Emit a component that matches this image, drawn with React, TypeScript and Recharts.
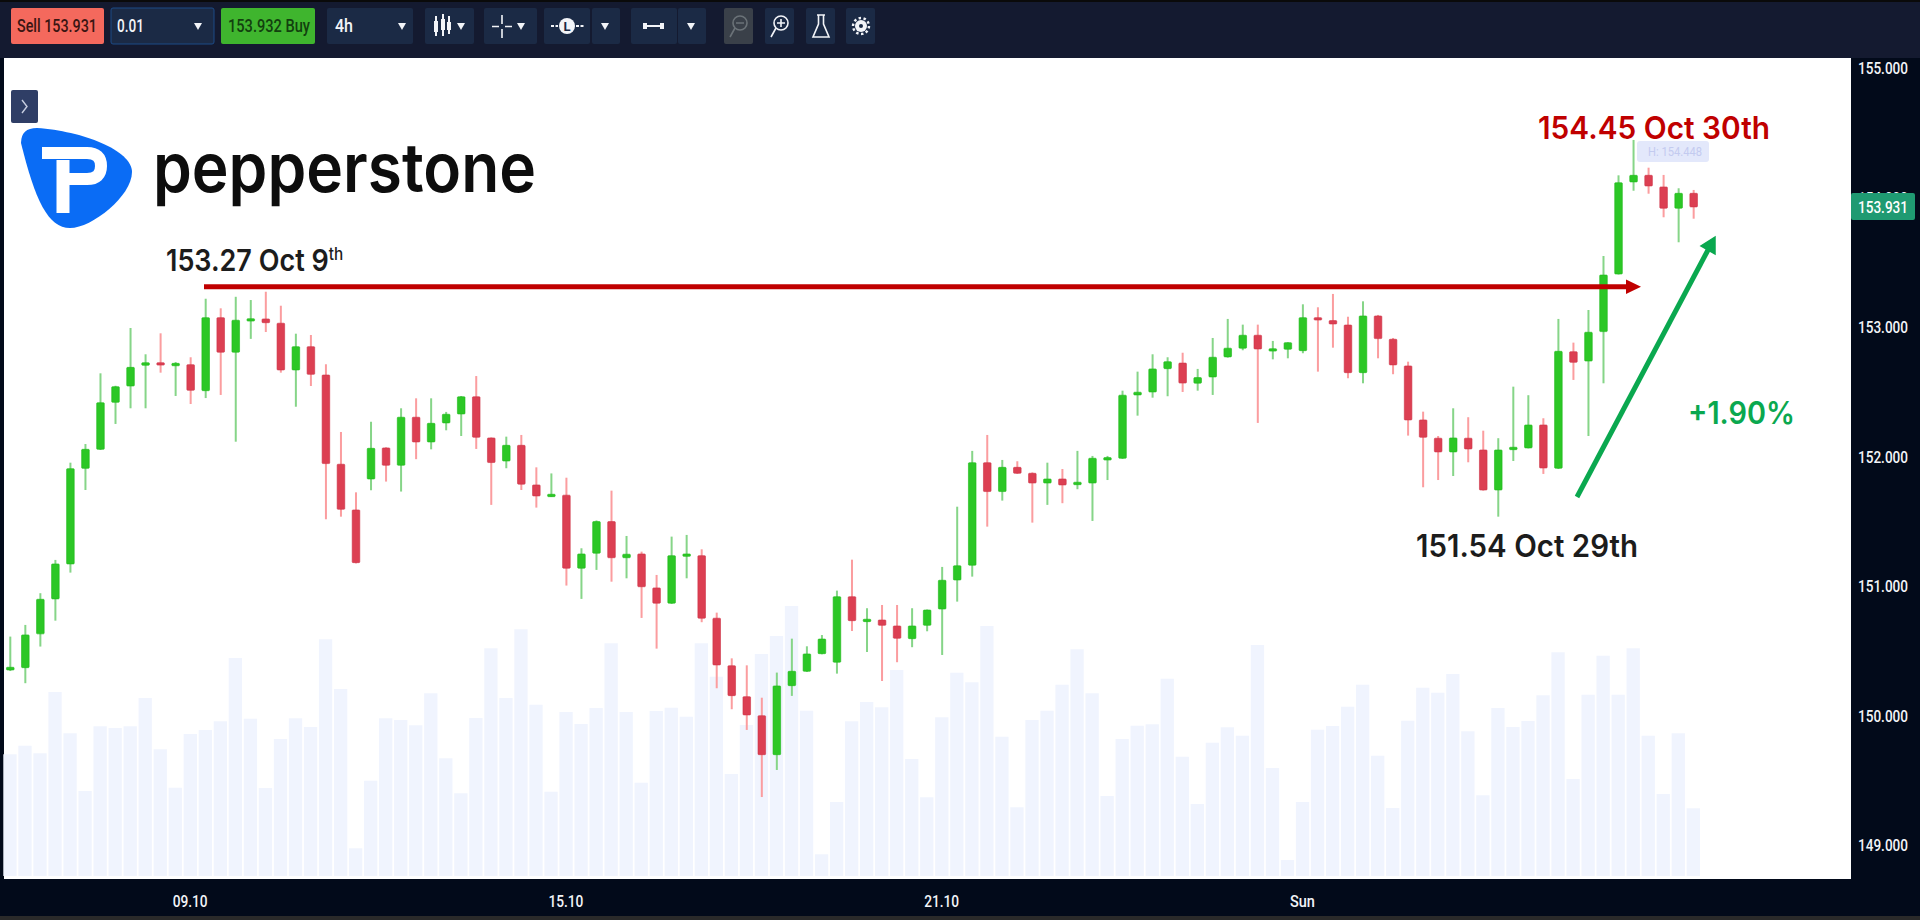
import React from 'react';
import { ComposedChart, Bar, XAxis, YAxis } from 'recharts';

const opens = [150.355,150.373,150.634,150.904,151.174,151.912,152.059,152.422,152.548,152.708,152.728,152.708,152.713,152.512,153.076,152.809,153.056,153.066,153.033,152.672,152.852,152.633,151.944,151.591,151.830,152.070,151.936,152.307,152.116,152.263,152.332,152.465,152.147,151.969,152.090,151.784,151.697,151.705,151.141,151.257,151.501,151.222,151.251,150.989,150.871,151.233,151.238,150.755,150.388,150.149,150.002,149.701,150.234,150.345,150.481,150.415,150.921,150.731,150.741,150.695,150.597,150.700,150.826,151.050,151.164,151.956,151.733,151.920,151.874,151.799,151.830,151.786,151.799,151.979,151.990,152.479,152.502,152.682,152.725,152.570,152.618,152.773,152.840,152.940,152.824,152.832,152.821,153.076,153.053,153.019,152.651,153.089,152.909,152.703,152.286,152.145,152.039,152.145,152.054,151.745,152.059,152.070,152.247,151.913,152.813,152.741,152.968,153.413,154.124,154.175,154.085,153.921,154.036];
const highs = [150.613,150.703,150.948,151.205,151.956,152.100,152.646,152.550,152.996,152.793,152.955,152.733,152.770,153.222,153.148,153.237,153.212,153.276,153.168,152.952,152.942,152.716,152.193,151.727,152.272,152.075,152.376,152.453,152.453,152.348,152.471,152.625,152.151,152.157,152.170,151.920,151.873,151.840,151.295,151.510,151.740,151.390,151.269,151.089,151.385,151.398,151.287,150.798,150.445,150.391,150.141,150.335,150.597,150.538,150.625,150.968,151.207,150.832,150.857,150.857,150.832,150.822,151.151,151.616,152.047,152.170,151.977,151.967,151.881,151.956,151.907,152.047,152.008,152.008,152.512,152.659,152.793,152.770,152.805,152.680,152.919,153.066,153.022,153.022,152.896,152.886,153.179,153.156,153.259,153.083,153.202,153.097,152.919,152.736,152.350,152.162,152.376,152.307,152.203,152.145,152.543,152.477,152.299,153.066,152.883,153.135,153.552,154.175,154.448,154.234,154.178,154.075,154.062];
const lows = [150.347,150.253,150.536,150.736,151.107,151.745,152.054,152.255,152.376,152.376,152.651,152.471,152.409,152.455,152.479,152.118,152.912,152.965,152.651,152.388,152.548,151.519,151.539,151.178,151.743,151.810,151.733,151.983,152.059,152.206,152.162,152.062,151.630,151.913,151.745,151.609,151.691,151.007,150.904,151.128,151.037,151.063,150.757,150.520,150.865,151.063,150.724,150.214,150.052,149.892,149.374,149.583,150.155,150.340,150.476,150.327,150.656,150.494,150.270,150.415,150.531,150.654,150.471,150.883,151.076,151.462,151.663,151.869,151.493,151.630,151.643,151.751,151.506,151.822,151.985,152.319,152.458,152.469,152.502,152.512,152.479,152.767,152.824,152.263,152.754,152.762,152.801,152.659,152.844,152.608,152.569,152.762,152.639,152.165,151.766,151.822,151.853,151.959,151.740,151.539,151.969,152.066,151.869,151.907,152.595,152.162,152.569,153.409,154.056,154.033,153.851,153.658,153.840];
const closes = [150.376,150.626,150.901,151.174,151.910,152.059,152.419,152.543,152.692,152.728,152.718,152.723,152.515,153.076,152.809,153.056,153.068,153.037,152.672,152.852,152.638,151.949,151.596,151.184,152.067,151.936,152.307,152.116,152.260,152.330,152.465,152.152,151.957,152.090,151.790,151.699,151.712,151.141,151.251,151.501,151.222,151.249,150.998,150.871,151.238,151.251,150.755,150.394,150.157,150.008,149.701,150.232,150.345,150.479,150.594,150.921,150.736,150.747,150.700,150.600,150.695,150.818,151.048,151.160,151.956,151.733,151.920,151.874,151.799,151.830,151.784,151.805,151.990,151.995,152.477,152.500,152.680,152.736,152.571,152.613,152.770,152.840,152.940,152.834,152.836,152.883,153.076,153.058,153.027,152.651,153.089,152.914,152.711,152.286,152.152,152.039,152.147,152.062,151.745,152.054,152.075,152.247,151.915,152.816,152.731,152.963,153.405,154.118,154.175,154.093,153.921,154.036,153.931];
const volumes = [1217,1303,1227,1840,1427,850,1497,1480,1497,1780,1267,883,1420,1460,1547,2180,1573,880,1370,1577,1490,2367,1870,277,953,1577,1560,1507,1827,1177,827,1580,2277,1780,2467,1713,843,1640,1520,1680,2327,1640,933,1650,1683,1593,2327,1993,1020,1510,2220,2400,2700,1653,217,740,1547,1740,1687,2060,1170,787,1587,2033,1937,2500,1393,687,1560,1653,1913,2267,1827,800,1370,1503,1517,1973,1193,720,1333,1487,1403,2310,1080,160,740,1463,1500,1693,1913,1203,680,1553,1883,1833,2020,1447,807,1680,1490,1550,1807,2237,970,1813,2203,1813,2277,1403,820,1427,677];
const dateTicks: Record<number, string> = { 12: '09.10', 37: '15.10', 62: '21.10', 86: 'Sun' };
const priceTicks = [149, 150, 151, 152, 153, 154, 155];
const totalSlots = 123;

const rows = Array.from({ length: totalSlots }, (_, i) => ({
  idx: i,
  open: opens[i] ?? null,
  high: highs[i] ?? null,
  low: lows[i] ?? null,
  close: closes[i] ?? null,
  volume: volumes[i] ?? null,
}));

const NAVY = '#020a1a';
const BAR = '#141a30';
const TICK = { fontFamily: 'Roboto, sans-serif', fontWeight: 500, fontSize: 17, fill: '#f2f4f8' };

const Candle = (props: any) => {
  const { x, y, width, height, payload } = props;
  if (payload == null || payload.open == null) return null;
  const { open, close, high, low } = payload;
  const up = close >= open;
  const span = high - low || 1;
  const px = (p: number) => y + ((high - p) / span) * height;
  const cx = x + width / 2;
  const top = px(Math.max(open, close));
  const bot = px(Math.min(open, close));
  const bh = Math.max(bot - top, 2.4);
  return (
    <g>
      <rect x={cx - 1} y={y} width={2} height={Math.max(height, 1)} fill={up ? '#86d588' : '#fb9d9f'} />
      <rect x={cx - 3.8} y={top} width={7.6} height={bh} rx={0.8} fill={up ? '#2cc726' : '#dc3f52'} stroke={up ? '#1cb918' : '#cc3246'} strokeWidth={0.6} />
    </g>
  );
};

const PriceTick = (props: any) => {
  const { y, payload } = props;
  return (
    <text x={1883} y={y + 6} textAnchor="middle" textLength={50} lengthAdjust="spacingAndGlyphs" {...TICK}>
      {payload.value.toFixed(3)}
    </text>
  );
};

const DateTick = (props: any) => {
  const { x, payload } = props;
  const label = dateTicks[payload.value];
  return (
    <text x={x} y={907} textAnchor="middle" textLength={label === 'Sun' ? 25 : 35} lengthAdjust="spacingAndGlyphs" {...TICK}>
      {label}
    </text>
  );
};

const Btn = ({ x, w, fill = '#1b2a45', stroke = 'none' }: any) => (
  <rect x={x} y={8} width={w} height={36} rx={2} fill={fill} stroke={stroke} />
);
const Caret = ({ x }: any) => <path d={`M${x - 4} 23 h8 l-4 7 z`} fill="#f2f4f8" />;
const Label = ({ x, w, y = 32, fill = '#f2f4f8', children }: any) => (
  <text x={x} y={y} textLength={w} lengthAdjust="spacingAndGlyphs" fontFamily="Roboto, sans-serif" fontWeight={500} fontSize={18} fill={fill}>
    {children}
  </text>
);
const ANNO = 'Inter, sans-serif';

const Overlay = () => (
  <svg width={1920} height={920} style={{ position: 'absolute', left: 0, top: 0, pointerEvents: 'none' }}>
    {/* toolbar */}
    <Btn x={11} w={93} fill="#f4695d" />
    <Label x={17} w={80} fill="#3a1512">Sell 153.931</Label>
    <Btn x={111} w={103} stroke="#1c4a86" />
    <Label x={117} w={27}>0.01</Label>
    <Caret x={198} />
    <Btn x={221} w={94} fill="#3fb52e" />
    <Label x={228} w={82} fill="#12400e">153.932 Buy</Label>
    <Btn x={327} w={86} />
    <Label x={335} w={18}>4h</Label>
    <Caret x={402} />
    <Btn x={425} w={49} />
    <g stroke="#f2f4f8" strokeWidth={2}><path d="M436 16 V36 M443 14 V36 M449 16 V34" /></g>
    <g fill="#f2f4f8"><rect x={434} y={21} width={4} height={11} /><rect x={441} y={19} width={4} height={11} /><rect x={447} y={22} width={4} height={8} /></g>
    <Caret x={461} />
    <Btn x={484} w={53} />
    <path d="M502 15 V24 M502 29 V38 M492 26.5 H499 M505 26.5 H512" stroke="#f2f4f8" strokeWidth={1.6} />
    <Caret x={521} />
    <Btn x={544} w={46} />
    <Btn x={592} w={28} />
    <circle cx={567} cy={26} r={8} fill="#f2f4f8" />
    <text x={567} y={31} textAnchor="middle" fontFamily="Roboto, sans-serif" fontWeight={700} fontSize={13} fill="#1b2a45">L</text>
    <path d="M551 26 H558 M576 26 H584" stroke="#f2f4f8" strokeWidth={2} strokeDasharray="3 1.5" />
    <Caret x={605} />
    <Btn x={631} w={46} />
    <Btn x={678} w={28} />
    <path d="M644 26 H663" stroke="#f2f4f8" strokeWidth={2} />
    <rect x={643} y={23} width={4} height={6} fill="#f2f4f8" /><rect x={660} y={23} width={4} height={6} fill="#f2f4f8" />
    <Caret x={691} />
    <Btn x={724} w={29} fill="#3a4049" />
    <circle cx={740} cy={23} r={7} fill="none" stroke="#6b7278" strokeWidth={1.6} />
    <path d="M735 28 L730 37 M736 23 H744" stroke="#6b7278" strokeWidth={1.6} />
    <Btn x={765} w={29} />
    <circle cx={781} cy={23} r={7} fill="none" stroke="#f2f4f8" strokeWidth={1.6} />
    <path d="M776 28 L771 37 M777 23 H785 M781 19 V27" stroke="#f2f4f8" strokeWidth={1.6} />
    <Btn x={806} w={29} />
    <path d="M817 15 H825 M818.5 15 V24 L813 37 H829 L823.5 24 V15" fill="none" stroke="#f2f4f8" strokeWidth={1.6} />
    <Btn x={846} w={29} />
    <circle cx={861} cy={26} r={6} fill="#f2f4f8" />
    <circle cx={861} cy={26} r={8} fill="none" stroke="#f2f4f8" strokeWidth={2.4} strokeDasharray="2.5 2.5" />
    <circle cx={861} cy={26} r={2} fill="#1b2a45" />

    {/* side button */}
    <rect x={11} y={90} width={27} height={33} rx={2} fill="#2f3e66" />
    <path d="M22 100 L27 106.5 L22 113" fill="none" stroke="#c7cee0" strokeWidth={1.4} />

    {/* logo */}
    <path d="M21 143 Q21 128 37 128 C 82 131 132 150 132 172 C 132 196 92 228 70 228 C 48 228 35 200 21 143 Z" fill="#0a6cf5" />
    <path d="M42 153 H87 Q101 153 101 166 Q101 179 87 179 H64" fill="none" stroke="#fff" strokeWidth={12} />
    <path d="M63 160 V213" fill="none" stroke="#fff" strokeWidth={13} />
    <text x={153} y={192} textLength={383} lengthAdjust="spacingAndGlyphs" fontFamily={ANNO} fontWeight={600} fontSize={68} fill="#0d0d0d">pepperstone</text>

    {/* annotations */}
    <path d="M204 286.7 H1628" stroke="#c00000" strokeWidth={5} />
    <path d="M1626 279.5 L1641 286.7 L1626 294 Z" fill="#c00000" />
    <text transform="translate(166 271) scale(0.9 1)" fontFamily={ANNO} fontWeight={600} fontSize={30} fill="#1c1c1c">
      153.27 Oct 9<tspan dy={-11} fontSize={17} fontWeight={500}>th</tspan>
    </text>
    <text x={1538} y={139} fontFamily={ANNO} fontWeight={600} fontSize={31} fill="#c00000" textLength={232} lengthAdjust="spacingAndGlyphs">154.45 Oct 30th</text>
    <rect x={1637} y={141} width={72} height={21} rx={3} fill="#e3e8fb" />
    <text x={1648} y={156} fontFamily="Roboto, sans-serif" fontSize={13} fill="#c3cbf0" textLength={54} lengthAdjust="spacingAndGlyphs">H: 154.448</text>
    <path d="M1577 497 L1708 250" stroke="#0aa84f" strokeWidth={5} />
    <path d="M1715 237 L1715 254 L1701 246 Z" fill="#0aa84f" stroke="#0aa84f" strokeWidth={1.5} />
    <text x={1688} y={424} fontFamily={ANNO} fontWeight={600} fontSize={31} fill="#0aa84f" textLength={107} lengthAdjust="spacingAndGlyphs">+1.90%</text>
    <text x={1416} y={557} fontFamily={ANNO} fontWeight={600} fontSize={31} fill="#1c1c1c" textLength={222} lengthAdjust="spacingAndGlyphs">151.54 Oct 29th</text>

    {/* current price tag */}
    <rect x={1851} y={193} width={64} height={27} rx={2} fill="#1f9a72" />
    <text x={1883} y={213} textAnchor="middle" textLength={50} lengthAdjust="spacingAndGlyphs" {...TICK} fill="#ffffff">153.931</text>
  </svg>
);

export default function App() {
  return (
    <div style={{ position: 'absolute', left: 0, top: 0, width: 1920, height: 920, background: NAVY, overflow: 'hidden' }}>
      <div style={{ position: 'absolute', left: 0, top: 0, width: 1920, height: 58, background: BAR, borderTop: '2px solid #0a0a0a', boxSizing: 'border-box' }} />
      <div style={{ position: 'absolute', left: 4, top: 58, width: 1847, height: 821, background: '#ffffff' }} />
      <div style={{ position: 'absolute', left: 0, top: 916, width: 1920, height: 4, background: '#2a2a2a' }} />
      <div style={{ position: 'absolute', left: 0, top: 0 }}>
        <ComposedChart width={1920} height={920} data={rows} margin={{ top: 58, right: 0, bottom: 0, left: 2.3 }}>
          <XAxis dataKey="idx" type="category" height={41} interval={0} ticks={Object.keys(dateTicks).map(Number)} tick={<DateTick />} axisLine={false} tickLine={false} />
          <XAxis xAxisId="candles" dataKey="idx" type="category" hide height={0} />
          <YAxis yAxisId="price" orientation="right" width={69} domain={[148.741, 155.081]} ticks={priceTicks} allowDataOverflow tick={<PriceTick />} axisLine={false} tickLine={false} />
          <YAxis yAxisId="vol" hide domain={[-30, 8180]} allowDataOverflow />
          <Bar yAxisId="vol" dataKey="volume" barSize={13.3} fill="#f0f4fe" isAnimationActive={false} />
          <Bar xAxisId="candles" yAxisId="price" dataKey={(d: any) => (d.low == null ? null : [d.low, d.high])} barSize={8} shape={<Candle />} isAnimationActive={false} />
        </ComposedChart>
      </div>
      <Overlay />
    </div>
  );
}
